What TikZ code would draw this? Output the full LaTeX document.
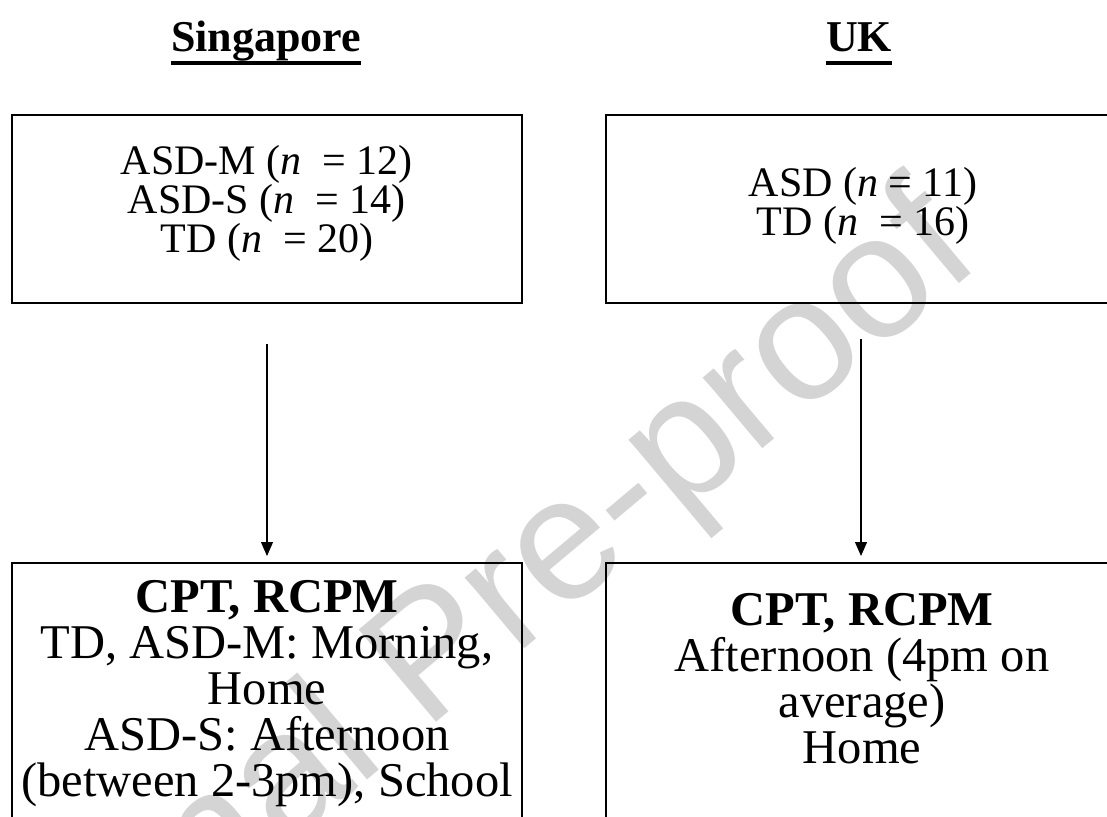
\documentclass[tikz,border=0pt]{standalone}
\usepackage{fontspec}
\setmainfont{Liberation Serif}
\newfontfamily\wmfont{Liberation Sans}
\usetikzlibrary{arrows.meta}
\begin{document}
\begin{tikzpicture}[x=1pt,y=-1pt,
  frame/.style={draw=black,line width=2pt,inner sep=0pt,minimum width=510pt},
  toptxt/.style={align=center,inner sep=0pt,font=\fontsize{42}{39}\selectfont},
  bottxt/.style={align=center,inner sep=0pt,font=\fontsize{48.5}{46}\selectfont},
  titletxt/.style={inner sep=0pt,font=\fontsize{44}{48}\selectfont\bfseries},
  arr/.style={line width=1.1pt,-{Triangle[length=14pt,width=12pt]}},
  wm/.style={text=black!17,inner sep=0pt,font=\fontsize{175}{185}\wmfont}
]
\useasboundingbox (0,0) rectangle (1107,816);
\clip (0,0) rectangle (1107,816);
\fill[white] (0,0) rectangle (1107,816);

% watermark
\node[wm,rotate=40,anchor=base east] (wmark) at (985,262) {Journal Pre-proof};

% titles
\node[titletxt,anchor=base] (ts) at (266,52) {Singapore};
\node[titletxt,anchor=base] (tu) at (859,52) {UK};
\draw[line width=3.5pt] ([yshift=-11pt]ts.base west) -- ([yshift=-11pt]ts.base east);
\draw[line width=3.5pt] ([yshift=-11pt]tu.base west) -- ([yshift=-11pt]tu.base east);

% boxes
\node[frame,minimum height=188pt] (tl) at (267,209) {};
\node[frame,minimum height=188pt] (tr) at (861,209) {};
\node[frame,minimum height=267pt] (bl) at (267,696.5) {};
\node[frame,minimum height=267pt] (br) at (861,696.5) {};

% texts
\node[toptxt] (tltext) at (267,203) {ASD-M (\textit{n}\ \ = 12)\\ASD-S (\textit{n}\ \ = 14)\\TD (\textit{n}\ \ = 20)};
\node[toptxt] (trtext) at (863,206) {ASD (\textit{n} = 11)\\TD (\textit{n}\ \ = 16)};
\node[bottxt] (bltext) at (267,694) {\textbf{CPT, RCPM}\\TD, ASD-M: Morning,\\Home\\ASD-S: Afternoon\\(between 2-3pm), School};
\node[bottxt] (brtext) at (862,679) {\textbf{CPT, RCPM}\\Afternoon (4pm on\\average)\\Home};

% arrows
\draw[arr,shorten <=40pt,shorten >=6pt] (tl) -- (bl);
\draw[arr,shorten <=35pt,shorten >=6pt] (tr) -- (br);
\end{tikzpicture}
\end{document}
